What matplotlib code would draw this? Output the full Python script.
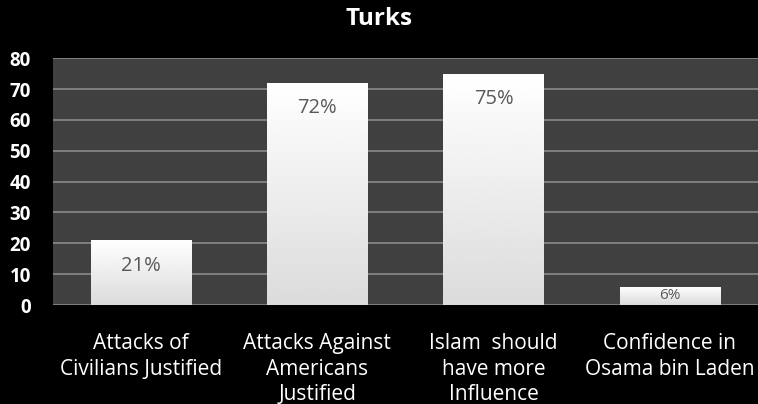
import matplotlib.pyplot as plt
import numpy as np

# data
categories = ["Attacks of\nCivilians Justified",
              "Attacks Against\nAmericans\nJustified",
              "Islam  should\nhave more\nInfluence",
              "Confidence in\nOsama bin Laden"]
values = [21, 72, 75, 6]
value_labels = ["21%", "72%", "75%", "6%"]
yticks = [0, 10, 20, 30, 40, 50, 60, 70, 80]

plt.rcParams['font.family'] = ['Open Sans', 'DejaVu Sans']

fig = plt.figure(figsize=(7.58, 4.04), dpi=100, facecolor='black')
ax = fig.add_axes([0.07, 0.245, 0.93, 0.611])
ax.set_facecolor('#404040')

x = np.arange(len(values))
bars = ax.bar(x, values, width=0.57, color='white', edgecolor='none', zorder=3)

# soft vertical gradient inside each bar
grad = np.linspace(1.0, 0.86, 100).reshape(-1, 1)
for b in bars:
    im = ax.imshow(grad, cmap='gray', vmin=0, vmax=1, aspect='auto', zorder=4,
                   extent=[b.get_x(), b.get_x() + b.get_width(), 0, b.get_height()])
    im.set_clip_path(b)

for xi, v, lab in zip(x, values, value_labels):
    if v > 15:
        ax.text(xi, v - 8.3, lab, ha='center', va='center', fontsize=14.5,
                color='#595959', zorder=5)
    else:
        ax.text(xi, v / 2, lab, ha='center', va='center', fontsize=11,
                color='#595959', zorder=5)

ax.set_xlim(-0.5, 3.5)
ax.set_ylim(0, 80)
ax.set_yticks(yticks)
ax.set_yticklabels([str(t) for t in yticks], color='white', fontsize=13.5,
                   fontweight='bold')
ax.set_xticks(x)
ax.set_xticklabels(categories, color='white', fontsize=15, linespacing=1.3,
                   va='top')
ax.tick_params(axis='y', length=0, pad=16)
ax.tick_params(axis='x', length=0, pad=20)
ax.grid(axis='y', color='#8a8a8a', linewidth=1.2, zorder=1)
ax.set_axisbelow(True)
for s in ax.spines.values():
    s.set_visible(False)

fig.text(0.5, 0.953, "Turks", ha='center', va='center', color='white',
         fontsize=17.5, fontweight='bold')

fig.savefig('out.png', dpi=100, facecolor='black')
